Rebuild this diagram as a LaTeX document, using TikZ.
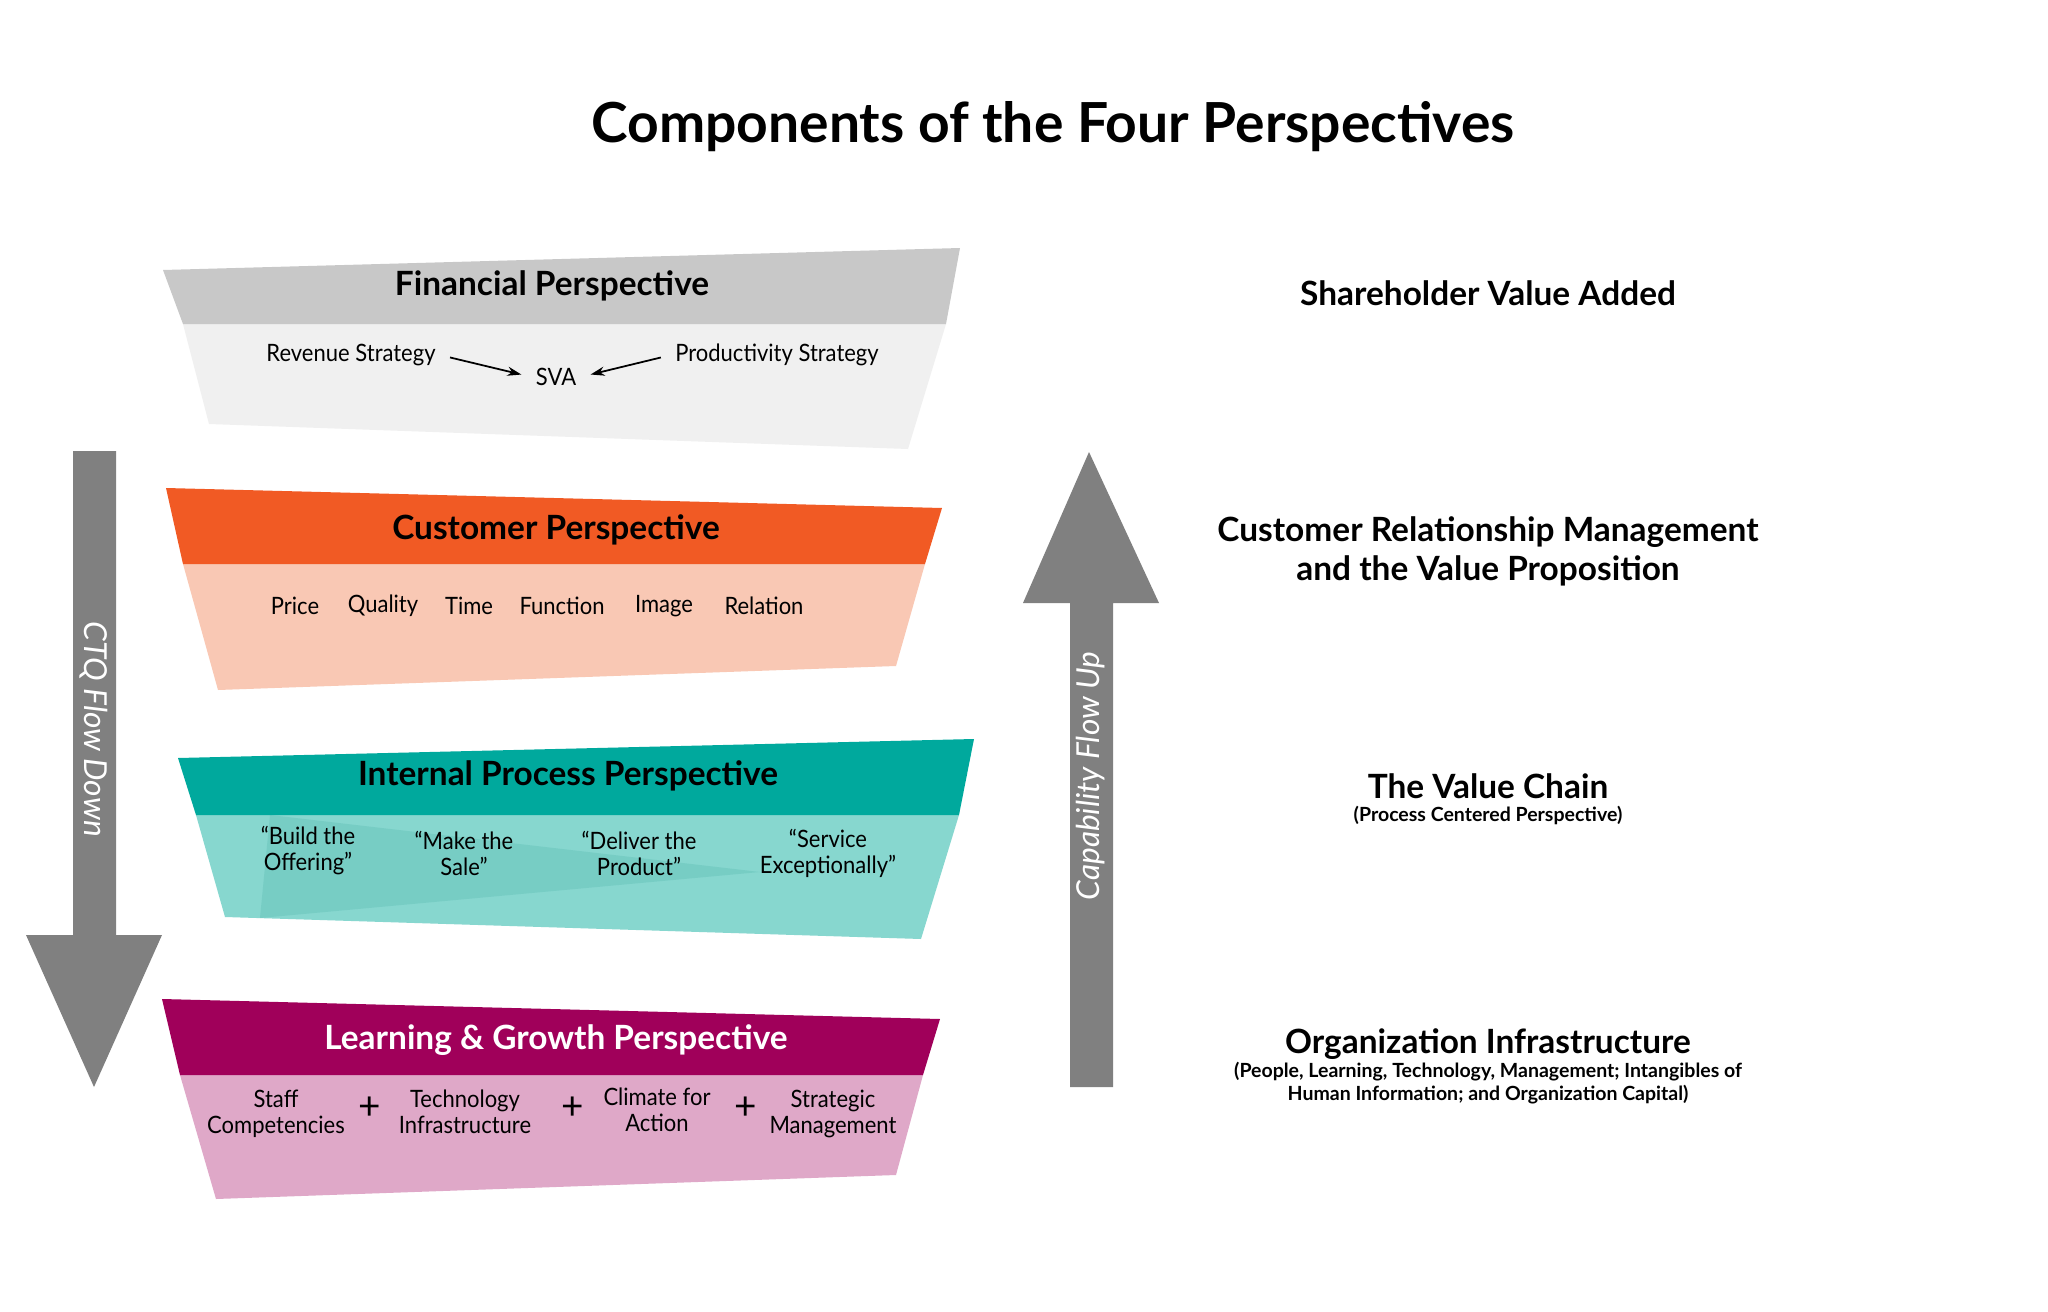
\documentclass[tikz,border=0pt]{standalone}
\usepackage{fontspec}
\setmainfont{Lato}
\newfontfamily\itemfont[FakeStretch=0.92]{Lato}
\usetikzlibrary{arrows.meta}
\definecolor{finH}{HTML}{C8C8C8}
\definecolor{finB}{HTML}{F0F0F0}
\definecolor{cusH}{HTML}{F15A24}
\definecolor{cusB}{HTML}{F9C8B4}
\definecolor{intH}{HTML}{00A99D}
\definecolor{intB}{HTML}{87D7CF}
\definecolor{intD}{HTML}{5FBFB5}
\definecolor{lrnH}{HTML}{A0005A}
\definecolor{lrnB}{HTML}{DFA8C8}
\definecolor{arrG}{HTML}{808080}
\tikzset{
  maintitle/.style={font=\bfseries\fontsize{15.7}{18}\selectfont},
  bandtitle/.style={font=\bfseries\fontsize{9.5}{11}\selectfont},
  sidetitle/.style={font=\bfseries\fontsize{9.5}{11.1}\selectfont, align=center},
  sidesub/.style={font=\bfseries\fontsize{5.55}{6.7}\selectfont, align=center},
  item/.style={font=\itemfont\fontsize{6.8}{7.4}\selectfont, align=center, inner sep=1pt},
  plus/.style={font=\fontsize{11}{12}\selectfont, inner sep=0pt},
  flowtext/.style={font=\itshape\fontsize{9}{10}\selectfont, text=white},
  thinarrow/.style={-{Stealth[length=4pt,width=2.6pt]}, line width=0.5pt, shorten <=3pt, shorten >=3pt}
}
\begin{document}
\begin{tikzpicture}[x=0.01cm,y=-0.01cm]
\useasboundingbox[fill=white] (0,0) rectangle (2048,1312);

\node[maintitle] (title) at (1053,127) {Components of the Four Perspectives};

% Financial
\fill[finB] (183,324) -- (946,324) -- (908,449) -- (209,424) -- cycle;
\fill[finH] (163,270) -- (960,248) -- (946,324) -- (183,324) -- cycle;
\node[bandtitle] (fin) at (552,286) {Financial Perspective};
\node[item] (rev) at (351,355) {Revenue Strategy};
\node[item] (sva) at (556,377) {SVA};
\node[item] (prod) at (777,355) {Productivity Strategy};
\draw[thinarrow] (rev.east) -- (sva.west);
\draw[thinarrow] (prod.west) -- (sva.east);

% Customer
\fill[cusB] (183,564) -- (925,564) -- (896,666) -- (218,690) -- cycle;
\fill[cusH] (166,488) -- (942,508) -- (925,564) -- (183,564) -- cycle;
\node[bandtitle] (cus) at (556,530) {Customer Perspective};
\node[item] (price) at (295,606) {Price};
\node[item] (qual) at (383,606) {Quality};
\node[item] (time) at (469,606) {Time};
\node[item] (func) at (562,606) {Function};
\node[item] (img) at (664,606) {Image};
\node[item] (rel) at (764,606) {Relation};

% Internal process
\fill[intB] (196,815) -- (959,815) -- (921,939) -- (225,917) -- cycle;
\fill[intD, opacity=0.4] (270,815) -- (760,872) -- (260,918) -- cycle;
\fill[intH] (178,758) -- (974,739) -- (959,815) -- (196,815) -- cycle;
\node[bandtitle] (int) at (568,776) {Internal Process Perspective};
\node[item] (build) at (308,851) {“Build the\\Offering”};
\node[item] (make) at (464,853) {“Make the\\Sale”};
\node[item] (deliv) at (639,853) {“Deliver the\\Product”};
\node[item] (serv) at (828,853) {“Service\\Exceptionally”};

% Learning & Growth
\fill[lrnB] (180,1075) -- (923,1075) -- (896,1175) -- (216,1199) -- cycle;
\fill[lrnH] (162,999) -- (940,1019) -- (923,1075) -- (180,1075) -- cycle;
\node[bandtitle, text=white] (lrn) at (556,1040) {Learning \& Growth Perspective};
\node[item] (staff) at (276,1114) {Staff\\Competencies};
\node[plus] (p1) at (370,1108) {+};
\node[item] (tech) at (465,1112) {Technology\\Infrastructure};
\node[plus] (p2) at (573,1108) {+};
\node[item] (clim) at (657,1110) {Climate for\\Action};
\node[plus] (p3) at (746,1108) {+};
\node[item] (strat) at (833,1114) {Strategic\\Management};

% Left arrow: CTQ Flow Down
\fill[arrG] (73,451) -- (116,451) -- (116,935) -- (162,935) -- (94,1087) -- (26,935) -- (73,935) -- cycle;
\node[flowtext, rotate=-90] (ctq) at (94,729) {CTQ Flow Down};

% Right arrow: Capability Flow Up
\fill[arrG] (1070,1087) -- (1113,1087) -- (1113,603) -- (1159,603) -- (1089,452) -- (1023,603) -- (1070,603) -- cycle;
\node[flowtext, rotate=90] (cap) at (1091,776) {Capability Flow Up};

% Right side texts
\node[sidetitle] (svaT) at (1488,293) {Shareholder Value Added};
\node[sidetitle] (crm) at (1488,551) {Customer Relationship Management\\and the Value Proposition};
\node[sidetitle] (chain) at (1488,786) {The Value Chain};
\node[sidesub] (chainsub) at (1488,815) {(Process Centered Perspective)};
\node[sidetitle] (org) at (1488,1044) {Organization Infrastructure};
\node[sidesub] (orgsub) at (1488,1083) {(People, Learning, Technology, Management; Intangibles of\\Human Information; and Organization Capital)};
\end{tikzpicture}
\end{document}
